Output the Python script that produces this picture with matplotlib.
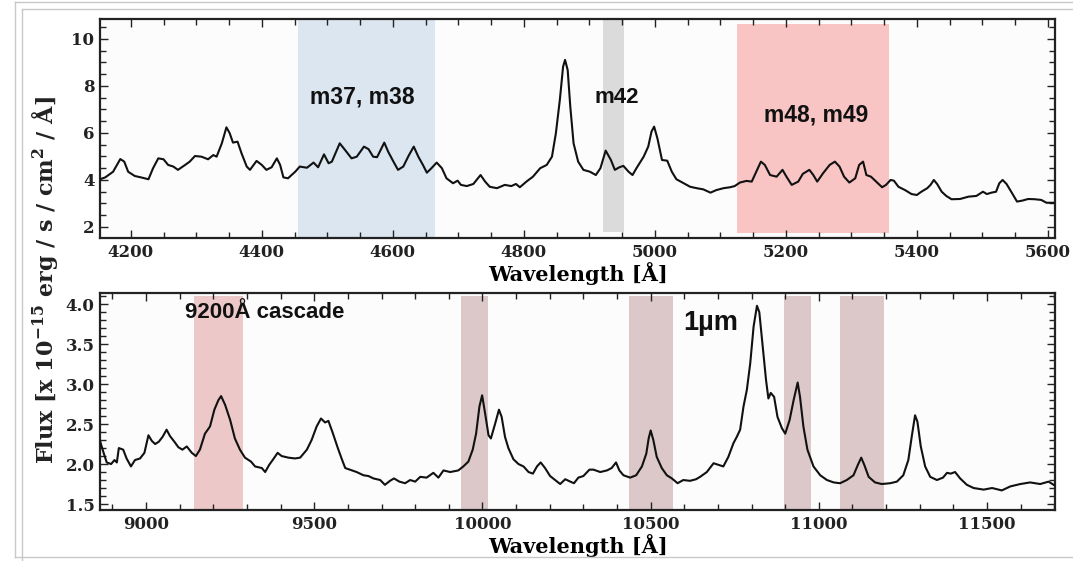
import matplotlib
matplotlib.use("Agg")
import matplotlib.pyplot as plt
from matplotlib.ticker import MultipleLocator
from matplotlib.lines import Line2D

# ---------------- data ----------------
opt_wave = [4153, 4161, 4173, 4184, 4190, 4196, 4206, 4217, 4227, 4234, 4242, 4250, 4257, 4265,
            4272, 4283, 4290, 4298, 4308, 4318, 4326, 4331, 4339, 4346, 4351, 4356, 4363, 4369,
            4377, 4382, 4392, 4400, 4407, 4415, 4423, 4428, 4433, 4440, 4451, 4458, 4469, 4479,
            4486, 4495, 4502, 4507, 4519, 4527, 4537, 4545, 4556, 4563, 4570, 4576, 4587, 4593,
            4601, 4608, 4616, 4624, 4632, 4639, 4646, 4652, 4659, 4667, 4675, 4682, 4692, 4699,
            4704, 4713, 4723, 4734, 4741, 4748, 4759, 4771, 4781, 4788, 4794, 4804, 4814, 4825,
            4835, 4843, 4849, 4855, 4860, 4863, 4867, 4871, 4876, 4883, 4891, 4901, 4910, 4917,
            4925, 4933, 4939, 4946, 4952, 4960, 4966, 4972, 4983, 4990, 4995, 4999, 5004, 5011,
            5019, 5026, 5033, 5044, 5054, 5064, 5074, 5085, 5094, 5105, 5115, 5122, 5130, 5140,
            5148, 5155, 5162, 5168, 5176, 5186, 5195, 5201, 5209, 5219, 5226, 5236, 5242, 5248,
            5257, 5267, 5275, 5282, 5289, 5297, 5306, 5312, 5318, 5323, 5330, 5338, 5347, 5353,
            5360, 5365, 5372, 5382, 5392, 5400, 5407, 5416, 5421, 5426, 5431, 5438, 5445, 5453,
            5466, 5479, 5491, 5501, 5507, 5514, 5521, 5526, 5531, 5537, 5545, 5553, 5561, 5570,
            5580, 5590, 5598, 5608]
opt_flux = [4.03, 4.11, 4.35, 4.89, 4.78, 4.35, 4.17, 4.10, 4.03, 4.50, 4.92, 4.88, 4.64, 4.57,
            4.43, 4.64, 4.78, 5.02, 4.99, 4.88, 5.06, 4.99, 5.56, 6.24, 5.99, 5.59, 5.63, 5.14,
            4.57, 4.43, 4.81, 4.64, 4.43, 4.54, 4.92, 4.64, 4.11, 4.07, 4.35, 4.57, 4.52, 4.74,
            4.54, 5.09, 4.71, 4.78, 5.56, 5.28, 4.92, 4.99, 5.42, 5.31, 4.99, 4.97, 5.59, 5.20,
            4.78, 4.43, 4.57, 5.02, 5.42, 4.99, 4.64, 4.31, 4.50, 4.74, 4.50, 4.07, 3.86, 3.97,
            3.79, 3.74, 3.83, 4.21, 3.93, 3.71, 3.65, 3.79, 3.74, 3.83, 3.69, 3.93, 4.14, 4.50,
            4.64, 4.99, 5.99, 7.40, 8.82, 9.11, 8.68, 7.12, 5.56, 4.78, 4.43, 4.35, 4.21, 4.50,
            5.25, 4.85, 4.43, 4.54, 4.60, 4.35, 4.21, 4.50, 4.99, 5.42, 6.06, 6.27, 5.77, 4.85,
            4.82, 4.35, 4.03, 3.86, 3.71, 3.65, 3.60, 3.46, 3.57, 3.65, 3.69, 3.74, 3.89, 3.96,
            3.93, 4.35, 4.78, 4.64, 4.21, 4.14, 4.43, 4.14, 3.79, 3.93, 4.26, 4.43, 4.21, 3.93,
            4.29, 4.64, 4.78, 4.57, 4.14, 3.89, 4.07, 4.64, 4.78, 4.21, 4.14, 3.93, 3.69, 3.79,
            4.00, 3.97, 3.71, 3.57, 3.40, 3.36, 3.50, 3.65, 3.79, 4.00, 3.83, 3.50, 3.32, 3.18,
            3.19, 3.29, 3.32, 3.50, 3.40, 3.46, 3.50, 3.86, 4.00, 3.83, 3.46, 3.08, 3.12, 3.19,
            3.18, 3.15, 3.03, 3.03]

nir_wave = [8863, 8873, 8883, 8896, 8906, 8913, 8919, 8932, 8942, 8955, 8967, 8982, 8995, 9007,
            9017, 9027, 9038, 9049, 9061, 9071, 9084, 9096, 9108, 9121, 9136, 9148, 9160, 9175,
            9190, 9203, 9215, 9223, 9235, 9250, 9264, 9279, 9294, 9312, 9324, 9344, 9354, 9366,
            9378, 9391, 9403, 9423, 9443, 9458, 9478, 9492, 9507, 9520, 9532, 9542, 9554, 9570,
            9582, 9592, 9606, 9626, 9646, 9661, 9676, 9696, 9710, 9725, 9737, 9753, 9770, 9785,
            9800, 9815, 9834, 9854, 9869, 9884, 9904, 9928, 9943, 9958, 9971, 9981, 9991, 9999,
            10008, 10018, 10025, 10038, 10049, 10057, 10067, 10077, 10092, 10107, 10122, 10137,
            10150, 10162, 10173, 10186, 10201, 10216, 10231, 10246, 10261, 10272, 10285, 10300,
            10318, 10330, 10350, 10370, 10384, 10397, 10407, 10419, 10439, 10457, 10474, 10487,
            10494, 10500, 10508, 10518, 10533, 10548, 10563, 10580, 10597, 10617, 10635, 10647,
            10667, 10687, 10702, 10716, 10731, 10746, 10756, 10766, 10776, 10786, 10796, 10806,
            10816, 10823, 10833, 10843, 10850, 10857, 10867, 10877, 10890, 10900, 10913, 10925,
            10937, 10944, 10954, 10966, 10984, 11004, 11024, 11044, 11063, 11083, 11103, 11116,
            11126, 11135, 11148, 11167, 11187, 11212, 11232, 11251, 11266, 11276, 11286, 11293,
            11303, 11316, 11331, 11351, 11369, 11381, 11392, 11405, 11420, 11440, 11460, 11490,
            11515, 11544, 11569, 11599, 11628, 11658, 11683, 11698]
nir_flux = [2.29, 2.15, 2.02, 2.00, 2.05, 2.02, 2.20, 2.18, 2.07, 1.97, 2.05, 2.07, 2.14, 2.36,
            2.29, 2.25, 2.28, 2.34, 2.43, 2.35, 2.28, 2.21, 2.18, 2.22, 2.14, 2.10, 2.18, 2.38,
            2.47, 2.68, 2.80, 2.85, 2.74, 2.55, 2.32, 2.18, 2.08, 2.03, 1.97, 1.95, 1.90, 1.99,
            2.06, 2.14, 2.10, 2.08, 2.07, 2.08, 2.18, 2.30, 2.47, 2.57, 2.52, 2.54, 2.40, 2.20,
            2.06, 1.95, 1.93, 1.90, 1.86, 1.85, 1.82, 1.80, 1.74, 1.79, 1.82, 1.78, 1.76, 1.80,
            1.78, 1.84, 1.83, 1.89, 1.83, 1.92, 1.90, 1.92, 1.97, 2.03, 2.18, 2.38, 2.72, 2.86,
            2.63, 2.36, 2.32, 2.51, 2.68, 2.59, 2.34, 2.20, 2.06, 2.00, 1.97, 1.90,
            1.88, 1.97, 2.02, 1.95, 1.85, 1.80, 1.75, 1.81, 1.78, 1.76, 1.83, 1.85,
            1.93, 1.93, 1.90, 1.92, 1.95, 2.02, 1.92, 1.86, 1.83, 1.86, 1.97, 2.13,
            2.32, 2.42, 2.30, 2.09, 1.95, 1.86, 1.82, 1.76, 1.80, 1.79, 1.81, 1.84,
            1.90, 2.01, 1.99, 1.97, 2.09, 2.26, 2.34, 2.43, 2.72, 2.93, 3.26, 3.72,
            3.98, 3.90, 3.47, 3.05, 2.82, 2.89, 2.84, 2.59, 2.45, 2.38, 2.55, 2.80,
            3.02, 2.84, 2.47, 2.18, 1.97, 1.86, 1.80, 1.77, 1.76, 1.80, 1.86, 1.99,
            2.08, 1.99, 1.84, 1.77, 1.75, 1.76, 1.78, 1.86, 2.05, 2.34, 2.61, 2.53,
            2.22, 1.97, 1.84, 1.80, 1.83, 1.89, 1.88, 1.90, 1.82, 1.74, 1.70, 1.68,
            1.70, 1.67, 1.72, 1.75, 1.77, 1.75, 1.78, 1.74]

opt_bands = [(4455, 4665), (4921, 4953), (5125, 5358)]
opt_band_labels = ["m37, m38", "m42", "m48, m49"]
nir_bands = [(9142, 9288), (9936, 10017), (10436, 10567), (10897, 10977), (11063, 11194)]
nir_band_labels = ["9200Å cascade", "1µm"]

# ---------------- style ----------------
plt.rcParams["font.family"] = ["DejaVu Serif"]
plt.rcParams["font.weight"] = "bold"
plt.rcParams["mathtext.fontset"] = "dejavuserif"
plt.rcParams["mathtext.default"] = "bf"

W, H = 1073, 561
fig = plt.figure(figsize=(W / 100, H / 100), dpi=100, facecolor="white")

def fx(px):
    return px / W

def fy(py):
    return 1 - py / H

ax1 = fig.add_axes([fx(100), fy(238), fx(1055) - fx(100), fy(19) - fy(238)])
ax2 = fig.add_axes([fx(100), fy(510), fx(1055) - fx(100), fy(293) - fy(510)])

line_kw = dict(color="#111111", lw=1.5)
ax1.plot(opt_wave, opt_flux, **line_kw, zorder=3)
ax2.plot(nir_wave, nir_flux, **line_kw, zorder=3)

# shaded regions
opt_cols = ["#dce6f0", "#dbdbdb", "#f9c4c4"]
opt_ext = [(0.0, 1.0), (0.027, 1.0), (0.023, 0.977)]
for (a, b), c, (y0, y1) in zip(opt_bands, opt_cols, opt_ext):
    ax1.axvspan(a, b, ymin=y0, ymax=y1, color=c, lw=0, zorder=1)
nir_cols = ["#ecc8c8", "#dcc8c8", "#dcc8c8", "#dcc8c8", "#dcc8c8"]
for (a, b), c in zip(nir_bands, nir_cols):
    ax2.axvspan(a, b, ymin=0.0, ymax=0.986, color=c, lw=0, zorder=1)

sans = ["Liberation Sans", "DejaVu Sans"]
tcol = "#111111"
ax1.text(4553, 7.53, opt_band_labels[0], family=sans, weight="bold", fontsize=16.5,
         ha="center", va="center", color=tcol, zorder=4)
ax1.text(4942, 7.53, opt_band_labels[1], family=sans, weight="bold", fontsize=16,
         ha="center", va="center", color=tcol, zorder=4)
ax1.text(5246, 6.77, opt_band_labels[2], family=sans, weight="bold", fontsize=16.5,
         ha="center", va="center", color=tcol, zorder=4)
ax2.text(9354, 3.89, nir_band_labels[0], family=sans, weight="bold", fontsize=16,
         ha="center", va="center", color=tcol, zorder=4)
ax2.text(10677, 3.76, nir_band_labels[1], family=sans, weight="bold", fontsize=19.5,
         ha="center", va="center", color=tcol, zorder=4)

ax1.set_xlim(4153, 5611)
ax1.set_ylim(1.53, 10.85)
ax2.set_xlim(8863, 11702)
ax2.set_ylim(1.425, 4.14)

ax1.xaxis.set_major_locator(MultipleLocator(200))
ax1.xaxis.set_minor_locator(MultipleLocator(50))
ax1.yaxis.set_major_locator(MultipleLocator(2))
ax1.yaxis.set_minor_locator(MultipleLocator(0.5))
ax2.xaxis.set_major_locator(MultipleLocator(500))
ax2.xaxis.set_minor_locator(MultipleLocator(100))
ax2.yaxis.set_major_locator(MultipleLocator(0.5))
ax2.yaxis.set_minor_locator(MultipleLocator(0.1))

for ax in (ax1, ax2):
    ax.set_facecolor("#fcfcfc")
    for s in ax.spines.values():
        s.set_linewidth(1.6)
        s.set_color("#222222")
    ax.tick_params(which="both", direction="in", top=True, right=True,
                   colors="#222222", labelsize=12, width=1.0)
    ax.tick_params(which="major", length=6, pad=4)
    ax.tick_params(which="minor", length=4)
    for lab in ax.get_xticklabels() + ax.get_yticklabels():
        lab.set_fontweight("bold")
    ax.set_xlabel("Wavelength [Å]", fontsize=15, fontweight="bold", labelpad=1)

ax1.set_yticks([2, 4, 6, 8, 10])
ax1.set_yticklabels(["2", "4", "6", "8", "10"])

fig.text(fx(45), fy(280), r"Flux [x 10$^{-15}$ erg / s / cm$^2$ / Å]", rotation=90,
         ha="center", va="center", fontsize=16, fontweight="bold", color="#222222")

# screenshot frame lines
gc = "#c8c8c8"
fig.add_artist(Line2D([fx(15), 1], [fy(2), fy(2)], color=gc, lw=1))
fig.add_artist(Line2D([fx(15), fx(15)], [fy(2), fy(557)], color=gc, lw=1))
fig.add_artist(Line2D([fx(15), 1], [fy(557), fy(557)], color=gc, lw=1))
fig.add_artist(Line2D([fx(22), 1], [fy(9), fy(9)], color=gc, lw=1))
fig.add_artist(Line2D([fx(22), fx(22)], [fy(9), 0], color=gc, lw=1))

fig.savefig("out.png", dpi=100, facecolor="white")
